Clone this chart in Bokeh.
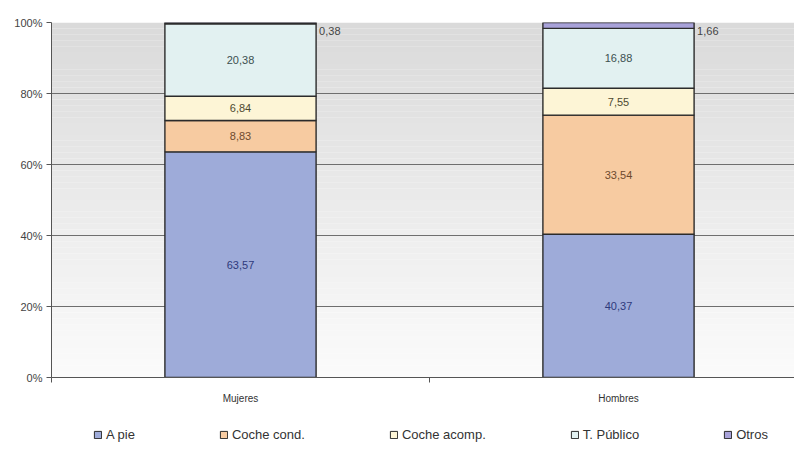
from bokeh.plotting import figure
from bokeh.layouts import column
from bokeh.models import (ColumnDataSource, Range1d, FixedTicker, Legend, LegendItem,
                          BoxAnnotation)
from bokeh.core.properties import value
from bokeh.embed import file_html
from bokeh.resources import INLINE

# Modal split of trips by sex (% of trips)
groups = ["Mujeres", "Hombres"]
modes = ["A pie", "Coche cond.", "Coche acomp.", "T. Público", "Otros"]
a_pie = [63.57, 40.37]
coche_cond = [8.83, 33.54]
coche_acomp = [6.84, 7.55]
t_publico = [20.38, 16.88]
otros = [0.38, 1.66]
y_ticks = [0, 20, 40, 60, 80, 100]

series = [a_pie, coche_cond, coche_acomp, t_publico, otros]
fills = ["#9eabd9", "#f7cba1", "#fdf5d6", "#e2f1f1", "#a8a2d9"]
text_colors = ["#2e3a7c", "#6e4a2e", "#4e4a30", "#3c5050", "#444444"]
keys = ["a_pie", "coche_cond", "coche_acomp", "t_publico", "otros"]

FONT = "Liberation Sans"
x_pos = [0.5, 1.5]
EDGE = "#2b2b2b"

data = {"x": x_pos, "grupo": groups}
for k, s in zip(keys, series):
    data[k] = s
src = ColumnDataSource(data)

p = figure(width=794, height=415,
           output_backend="svg", toolbar_location=None,
           x_range=Range1d(0, 743 / 378), y_range=Range1d(0, 100),
           min_border_left=51, min_border_right=0, min_border_top=22,
           min_border_bottom=38, outline_line_color=None,
           background_fill_color="white", border_fill_color="white")

# soft gray-to-white vertical wash behind the plot area
n_bands = 60
for i in range(n_bands):
    t = i / (n_bands - 1)
    g = int(round(0xfb - (0xfb - 0xda) * t))
    p.add_layout(BoxAnnotation(bottom=100 * i / n_bands, top=100 * (i + 1) / n_bands,
                               fill_color=(g, g, g), fill_alpha=1.0, line_color=None,
                               level="image"))

p.vbar_stack(keys, x="x", width=0.4, source=src, color=fills,
             line_color=EDGE, line_width=1.4)

# value labels inside each segment
cum = [0.0, 0.0]
for k, s, col in zip(keys[:-1], series[:-1], text_colors[:-1]):
    mids = [c + v / 2 for c, v in zip(cum, s)]
    cum = [c + v for c, v in zip(cum, s)]
    lsrc = ColumnDataSource(dict(x=x_pos, y=mids,
                                 t=[f"{v:.2f}".replace(".", ",") for v in s]))
    p.text(x="x", y="y", text="t", source=lsrc, text_align="center",
           text_baseline="middle", text_font=value(FONT), text_font_size="11px",
           text_color=col)

# "Otros" labels sit just right of the bar top
top = [c + v for c, v in zip(cum, otros)]
osrc = ColumnDataSource(dict(x=[xx + 0.2 for xx in x_pos], y=top,
                             t=[f"{v:.2f}".replace(".", ",") for v in otros]))
p.text(x="x", y="y", text="t", source=osrc, text_align="left", text_baseline="top",
       x_offset=3, y_offset=4, text_font=value(FONT), text_font_size="11px",
       text_color=text_colors[-1])

# axes
p.yaxis.ticker = FixedTicker(ticks=y_ticks)
p.yaxis.major_label_overrides = {t: f"{t}%" for t in y_ticks}
p.yaxis.axis_line_color = "#555555"
p.yaxis.major_tick_line_color = "#555555"
p.yaxis.major_tick_out = 5
p.yaxis.major_tick_in = 0
p.yaxis.minor_tick_line_color = None
p.yaxis.major_label_text_font = FONT
p.yaxis.major_label_text_font_size = "11px"
p.yaxis.major_label_text_color = "#444444"
p.yaxis.major_label_standoff = 4

p.xaxis.ticker = FixedTicker(ticks=x_pos, minor_ticks=[0, 1])
p.xaxis.major_label_overrides = {x: g for x, g in zip(x_pos, groups)}
p.xaxis.axis_line_color = "#555555"
p.xaxis.major_tick_line_color = None
p.xaxis.major_tick_out = 5
p.xaxis.major_tick_in = 0
p.xaxis.minor_tick_line_color = "#555555"
p.xaxis.minor_tick_out = 5
p.xaxis.minor_tick_in = 0
p.xaxis.major_label_text_font = FONT
p.xaxis.major_label_text_font_size = "10px"
p.xaxis.major_label_text_color = "#333333"
p.xaxis.major_label_standoff = 10

p.xgrid.grid_line_color = None
p.ygrid.ticker = FixedTicker(ticks=y_ticks)
p.ygrid.grid_line_color = "#6e6e6e"
p.ygrid.grid_line_width = 1

# legend strip underneath the chart; swatch glyphs sit outside its visible range
leg = figure(width=794, height=35, output_backend="svg", toolbar_location=None,
             x_range=Range1d(0, 1), y_range=Range1d(0, 1),
             min_border_left=0, min_border_right=0, min_border_top=0,
             min_border_bottom=0, outline_line_color=None,
             background_fill_color="white", border_fill_color="white")
leg.axis.visible = False
leg.grid.visible = False
swatches = [leg.vbar(x=[5], top=[1], width=0.1, fill_color=f, line_color=EDGE, line_width=1)
            for f in fills]
legend = Legend(items=[LegendItem(label=m, renderers=[r]) for m, r in zip(modes, swatches)],
                orientation="horizontal", location=(42, 8), spacing=84,
                glyph_width=9, glyph_height=9, label_standoff=4,
                label_text_font=FONT, label_text_font_size="13px",
                label_text_color="#333333", border_line_color=None,
                background_fill_alpha=0, padding=0, margin=0)
leg.add_layout(legend, "center")

open("out.html", "w").write(file_html(column(p, leg, spacing=0), INLINE))
